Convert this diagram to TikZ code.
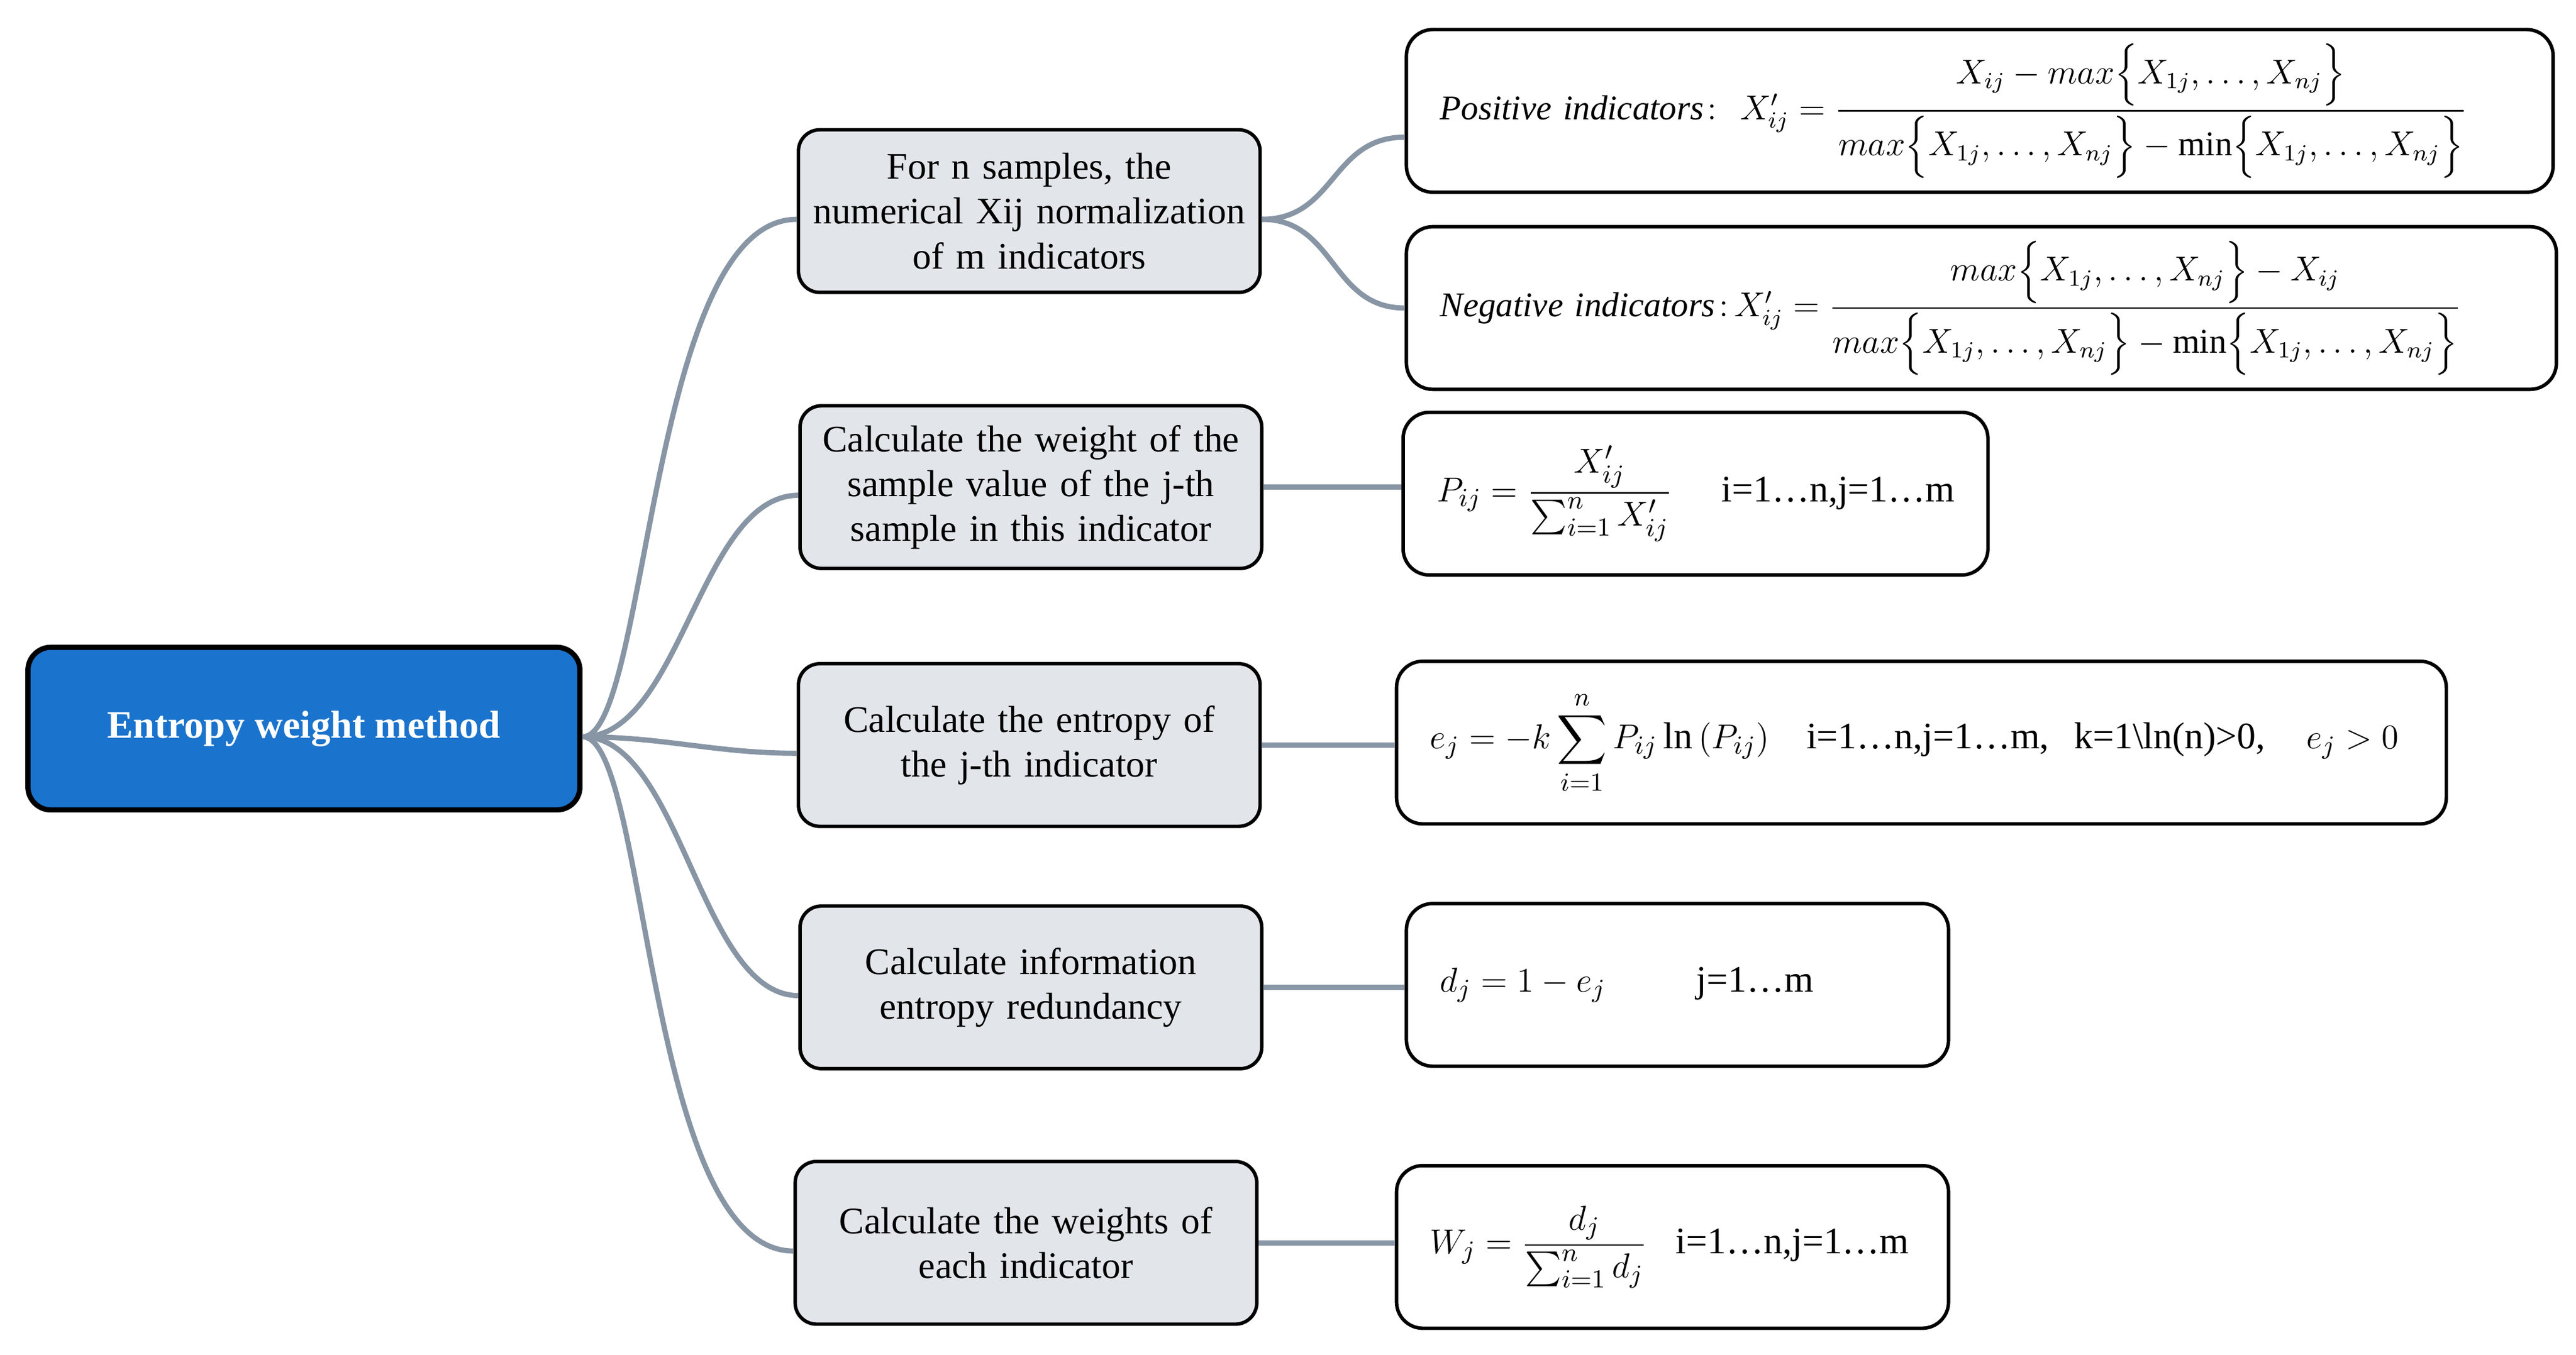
\documentclass[tikz,border=0pt]{standalone}
\usepackage{fontspec}
\setmainfont{Liberation Serif}
\usepackage{amsmath}

\definecolor{rootblue}{HTML}{1A73CC}
\definecolor{boxgray}{HTML}{E2E6EA}
\definecolor{linkgray}{HTML}{8795A4}

\tikzset{
  rootbox/.style={draw=black, line width=1.8pt, fill=rootblue, rounded corners=0.28cm,
    minimum width=6.72cm, minimum height=1.98cm, text=white,
    font=\fontsize{13.5}{16}\selectfont\bfseries},
  stepbox/.style={draw=black, line width=1.2pt, fill=boxgray, rounded corners=0.26cm,
    minimum width=5.62cm, minimum height=1.98cm, text width=5.5cm, inner sep=0pt,
    align=center, font=\fontsize{13}{15.5}\selectfont},
  formbox/.style={draw=black, line width=1.2pt, rounded corners=0.32cm, anchor=west,
    minimum height=1.98cm, inner xsep=0.41cm, inner ysep=0pt, text width=#1,
    align=left, font=\fontsize{13}{15.5}\selectfont},
  link/.style={draw=linkgray, line width=1.8pt}
}

\begin{document}
\begin{tikzpicture}
\useasboundingbox (0,0) rectangle (31.36,-16.49);

% root and steps
\node[rootbox] (root) at (3.70,-8.87) {Entropy weight method};
\coordinate (hub) at ([yshift=-0.1cm]root.east);

\node[stepbox] (m1) at (12.53,-2.57) {For n samples, the\\numerical Xij normalization\\of m indicators};
\node[stepbox] (m2) at (12.55,-5.93) {Calculate the weight of the\\sample value of the j-th\\sample in this indicator};
\node[stepbox] (m3) at (12.53,-9.07) {Calculate the entropy of\\the j-th indicator};
\node[stepbox] (m4) at (12.55,-12.02) {Calculate information\\entropy redundancy};
\node[stepbox] (m5) at (12.49,-15.13) {Calculate the weights of\\each indicator};

% formulas
\node[formbox=13.14cm, font=\fontsize{12}{14}\selectfont] (r1a) at (17.10,-1.35) {\textit{Positive indicators}$\colon\ X'_{ij}=\dfrac{X_{ij}-max\Bigl\{X_{1j},\dots,X_{nj}\Bigr\}}{max\Bigl\{X_{1j},\dots,X_{nj}\Bigr\}-\min\Bigl\{X_{1j},\dots,X_{nj}\Bigr\}}$};
\node[formbox=13.18cm, font=\fontsize{12}{14}\selectfont] (r1b) at (17.10,-3.75) {\textit{Negative indicators}$\colon\! X'_{ij}=\dfrac{max\Bigl\{X_{1j},\dots,X_{nj}\Bigr\}-X_{ij}}{max\Bigl\{X_{1j},\dots,X_{nj}\Bigr\}-\min\Bigl\{X_{1j},\dots,X_{nj}\Bigr\}}$};
\node[formbox=6.30cm] (r2) at (17.06,-6.01) {\mbox{$P_{ij}=\dfrac{X'_{ij}}{\sum_{i=1}^{n}X'_{ij}}$\hspace{0.6cm}i=1…n,j=1…m}};
\node[formbox=11.96cm] (r3) at (16.98,-9.04) {\mbox{$e_j=-k\displaystyle\sum_{i=1}^{n}P_{ij}\ln\left(P_{ij}\right)$\hspace{0.45cm}i=1…n,j=1…m,\ \ k=1\textbackslash ln(n)>0,\hspace{0.5cm}$e_j>0$}};
\node[formbox=5.78cm] (r4) at (17.10,-11.99) {$d_j=1-e_j$\hspace{1.1cm}j=1…m};
\node[formbox=5.90cm] (r5) at (16.98,-15.18) {$W_j=\dfrac{d_j}{\sum_{i=1}^{n}d_j}$\hspace{0.35cm}i=1…n,j=1…m};

% connectors
\foreach \m/\a/\b in {m1/0.8/1.8, m2/1.2/1.2, m3/1/1, m4/1.2/1.2, m5/0.8/1.8} {
    \draw[link] (hub) .. controls +(\a,0) and +(-\b,0) .. ([yshift=-0.1cm]\m.west);}
\draw[link] ([yshift=-0.1cm]m1.east) .. controls +(0.9,0) and +(-0.9,0) .. ([yshift=-0.32cm]r1a.west);
\draw[link] ([yshift=-0.1cm]m1.east) .. controls +(0.9,0) and +(-0.9,0) .. (r1b.west);
\foreach \i in {2,...,5} {
    \draw[link] (m\i.east) -- (m\i.east -| r\i.west);}

\end{tikzpicture}
\end{document}
